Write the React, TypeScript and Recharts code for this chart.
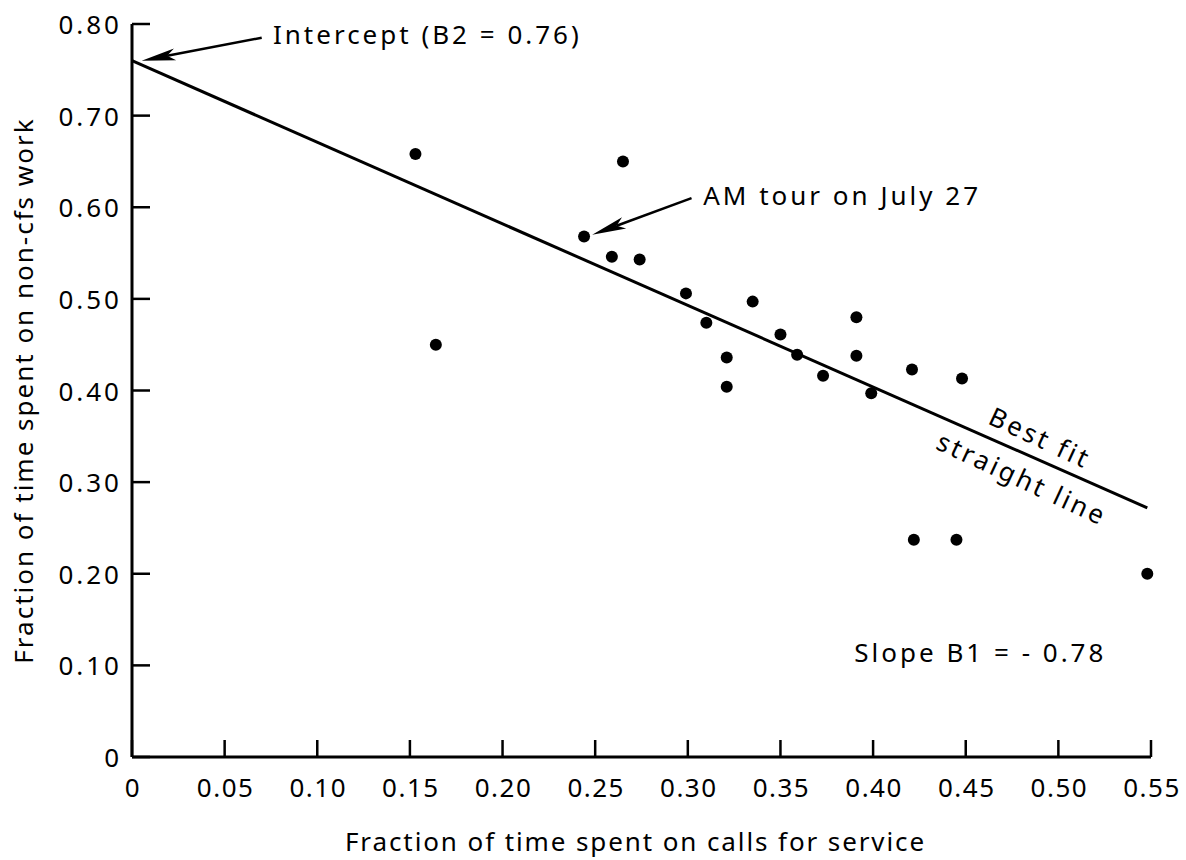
import React from 'react'
import {
  ScatterChart,
  Scatter,
  XAxis,
  YAxis,
  ReferenceLine,
  ReferenceDot,
} from 'recharts'

// tick values and their printed labels
const xTicks = [0, 0.05, 0.1, 0.15, 0.2, 0.25, 0.3, 0.35, 0.4, 0.45, 0.5, 0.55]
const xTickLabels = ['0', '0.05', '0.10', '0.15', '0.20', '0.25', '0.30', '0.35', '0.40', '0.45', '0.50', '0.55']
const yTicks = [0, 0.1, 0.2, 0.3, 0.4, 0.5, 0.6, 0.7, 0.8]
const yTickLabels = ['0', '0.10', '0.20', '0.30', '0.40', '0.50', '0.60', '0.70', '0.80']

// one point per tour
const cfsShare = [
  0.153, 0.164, 0.244, 0.259, 0.265, 0.274, 0.299, 0.31, 0.321, 0.321, 0.335,
  0.35, 0.359, 0.373, 0.391, 0.391, 0.399, 0.421, 0.448, 0.422, 0.445, 0.548,
]
const nonCfsShare = [
  0.658, 0.45, 0.568, 0.546, 0.65, 0.543, 0.506, 0.474, 0.436, 0.404, 0.497,
  0.461, 0.439, 0.416, 0.48, 0.438, 0.397, 0.423, 0.413, 0.237, 0.237, 0.2,
]

// fitted line end points
const fitX = [0, 0.548]
const fitY = [0.76, 0.272]

const points = cfsShare.map((x, i) => ({ x, y: nonCfsShare[i] }))
const fitLine = fitX.map((x, i) => ({ x, y: fitY[i] }))

const FONT = '"Noto Sans", sans-serif'
const INK = '#000'

const XTick = ({ x, y, payload }: any) => (
  <g>
    <line x1={x} y1={y} x2={x} y2={y - 17} stroke={INK} strokeWidth={2.5} />
    <text x={x + 1} y={y + 30} textAnchor="middle" dominantBaseline="central"
      fontFamily={FONT} fontSize={26} letterSpacing={1.5} fill={INK}>
      {xTickLabels[xTicks.indexOf(payload.value)]}
    </text>
  </g>
)

const YTick = ({ x, y, payload }: any) => (
  <g>
    <line x1={x} y1={y} x2={x + 18} y2={y} stroke={INK} strokeWidth={2.5} />
    <text x={x - 10} y={y} textAnchor="end" dominantBaseline="central"
      fontFamily={FONT} fontSize={26} letterSpacing={3} fill={INK}>
      {yTickLabels[yTicks.indexOf(payload.value)]}
    </text>
  </g>
)

// line with a filled arrow head at (x2, y2)
const Arrow = ({ x1, y1, x2, y2 }: any) => {
  const a = Math.atan2(y2 - y1, x2 - x1)
  const len = 34
  const w = 6
  const bx = x2 - len * Math.cos(a)
  const by = y2 - len * Math.sin(a)
  const nx = -Math.sin(a) * w
  const ny = Math.cos(a) * w
  const mx = x2 - (len - 8) * Math.cos(a)
  const my = y2 - (len - 8) * Math.sin(a)
  return (
    <g>
      <line x1={x1} y1={y1} x2={mx} y2={my} stroke={INK} strokeWidth={2.5} />
      <polygon points={`${x2},${y2} ${bx + nx},${by + ny} ${mx},${my} ${bx - nx},${by - ny}`} fill={INK} />
    </g>
  )
}

const note = (text: string, anchor: string, angle = 0) => ({ cx, cy }: any) => (
  <text x={cx} y={cy} textAnchor={anchor} dominantBaseline="central"
    transform={angle ? `rotate(${angle}, ${cx}, ${cy})` : undefined}
    fontFamily={FONT} fontSize={26} letterSpacing={3} fill={INK}>
    {text}
  </text>
)

const Dot = ({ cx, cy }: any) => <circle cx={cx} cy={cy} r={6} fill={INK} />

export default function App() {
  return (
    <div style={{ position: 'absolute', left: 0, top: 0, background: '#fff' }}>
      <ScatterChart width={1186} height={860} margin={{ top: 24, right: 35, bottom: 0, left: 0 }}>
        <XAxis
          type="number"
          dataKey="x"
          domain={[0, 0.55]}
          ticks={xTicks}
          interval={0}
          height={103}
          tickSize={0}
          tickMargin={0}
          tickLine={false}
          tick={<XTick />}
          axisLine={{ stroke: INK, strokeWidth: 3 }}
          label={{
            value: 'Fraction of time spent on calls for service',
            position: 'insideBottom',
            offset: 9,
            dx: -6,
            style: { fontFamily: FONT, fontSize: 26, fill: INK, letterSpacing: 1.9 },
          }}
        />
        <YAxis
          type="number"
          dataKey="y"
          domain={[0, 0.8]}
          ticks={yTicks}
          interval={0}
          width={132}
          tickSize={0}
          tickMargin={0}
          tickLine={false}
          tick={<YTick />}
          axisLine={{ stroke: INK, strokeWidth: 3 }}
          label={{
            value: 'Fraction of time spent on non-cfs work',
            angle: -90,
            position: 'insideLeft',
            offset: 24,
            style: { textAnchor: 'middle', fontFamily: FONT, fontSize: 26, fill: INK, letterSpacing: 2 },
          }}
        />
        <Scatter
          data={fitLine}
          line={{ stroke: INK, strokeWidth: 3 }}
          shape={() => <g />}
          isAnimationActive={false}
        />
        <Scatter data={points} shape={<Dot />} isAnimationActive={false} />
        <ReferenceLine segment={[{ x: 0.07, y: 0.785 }, { x: 0.0052, y: 0.76 }]} shape={Arrow} />
        <ReferenceLine segment={[{ x: 0.302, y: 0.61 }, { x: 0.2484, y: 0.57 }]} shape={Arrow} />
        <ReferenceDot x={0.0761} y={0.7895} r={0} shape={note('Intercept (B2 = 0.76)', 'start')} />
        <ReferenceDot x={0.3083} y={0.6129} r={0} shape={note('AM tour on July 27', 'start')} />
        <ReferenceDot x={0.4903} y={0.349} r={0} shape={note('Best fit', 'middle', 25)} />
        <ReferenceDot x={0.4806} y={0.3043} r={0} shape={note('straight line', 'middle', 25)} />
        <ReferenceDot x={0.4579} y={0.1145} r={0} shape={note('Slope B1 = - 0.78', 'middle')} />
      </ScatterChart>
    </div>
  )
}
